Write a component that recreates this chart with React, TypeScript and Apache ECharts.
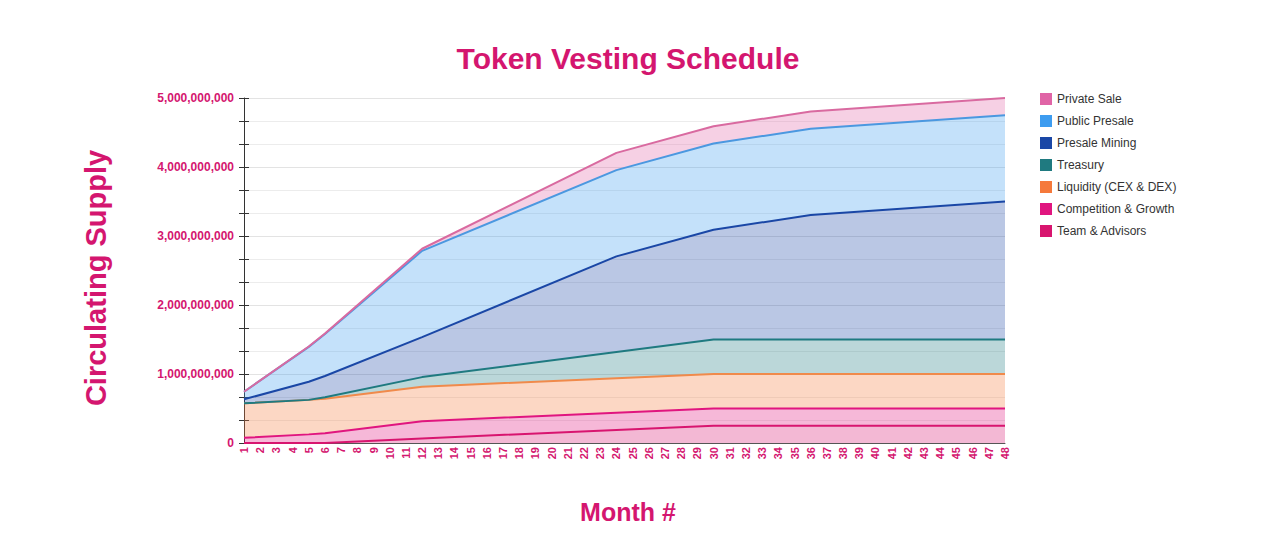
import React, { useEffect, useRef } from "react";
import * as echarts from "echarts";

// Month breakpoints of the vesting schedule (values in millions of tokens)
const months = [1, 5, 6, 12, 24, 30, 36, 48];
const UNIT = 1e6;

const teamAdvisors = [0, 0, 0, 65, 190, 250, 250, 250];
const competitionGrowth = [75, 125, 143, 250, 250, 250, 250, 250];
const liquidity = [500, 500, 500, 500, 500, 500, 500, 500];
const treasury = [0, 0, 20, 140, 380, 500, 500, 500];
const presaleMining = [58, 263, 308, 580, 1385, 1590, 1805, 2000];
const publicPresale = [110, 505, 610, 1250, 1250, 1250, 1250, 1250];
const privateSale = [0, 5, 7, 30, 250, 250, 250, 250];

const seriesNames = [
  "Team & Advisors",
  "Competition & Growth",
  "Liquidity (CEX & DEX)",
  "Treasury",
  "Presale Mining",
  "Public Presale",
  "Private Sale",
];
const seriesValues = [
  teamAdvisors,
  competitionGrowth,
  liquidity,
  treasury,
  presaleMining,
  publicPresale,
  privateSale,
];
const seriesColors = [
  "#d8156f",
  "#e0157f",
  "#f5793b",
  "#1f7a80",
  "#1a47a6",
  "#3d9cf0",
  "#e064a6",
];
const lineColors = [
  "#d8156f",
  "#e0157f",
  "#f08a4b",
  "#1f7a80",
  "#1a47a6",
  "#4b98e0",
  "#d96aa0",
];

const PINK = "#d4166f";
const FONT = "Arial, 'Liberation Sans', Helvetica, sans-serif";

export default function App() {
  const ref = useRef<HTMLDivElement>(null);

  useEffect(() => {
    if (!ref.current) return;
    const chart = echarts.init(ref.current, undefined, { renderer: "svg" });

    // value first, month second, so that the value dimension is the one stacked
    const series = seriesNames.map((name, i) => ({
      name,
      type: "line",
      stack: "total",
      showSymbol: false,
      symbol: "none",
      encode: { x: 1, y: 0 },
      data: months.map((m, j) => [seriesValues[i][j] * UNIT, m]),
      itemStyle: { color: seriesColors[i] },
      lineStyle: { color: lineColors[i], width: 2 },
      areaStyle: { color: seriesColors[i], opacity: 0.3 },
    }));

    const yCommon = {
      type: "value",
      min: 0,
      max: 5e9,
      interval: 1e9,
    };

    chart.setOption({
      animation: false,
      backgroundColor: "#ffffff",
      textStyle: { fontFamily: FONT },
      grid: { left: 244, right: 275, top: 98, bottom: 94, containLabel: false },
      legend: {
        orient: "vertical",
        left: 1035,
        top: 88,
        icon: "rect",
        itemWidth: 12,
        itemHeight: 12,
        itemGap: 10,
        data: [...seriesNames].reverse(),
        textStyle: { color: "#333", fontSize: 12, fontFamily: FONT },
      },
      xAxis: {
        type: "value",
        min: 1,
        max: 48,
        interval: 1,
        axisLine: { show: true, lineStyle: { color: "#555", width: 1 } },
        axisTick: { show: false },
        splitLine: { show: false },
        axisLabel: {
          rotate: 90,
          margin: 4,
          color: PINK,
          fontWeight: "bold",
          fontSize: 11,
          fontFamily: FONT,
        },
      },
      yAxis: [
        {
          ...yCommon,
          axisLine: { show: true, lineStyle: { color: "#333", width: 1 } },
          axisTick: { show: true, length: 5, lineStyle: { color: "#333" } },
          minorTick: { show: true, splitNumber: 3, length: 5, lineStyle: { color: "#333" } },
          splitLine: { show: true, lineStyle: { color: "#e3e3e3" } },
          minorSplitLine: { show: true, lineStyle: { color: "#ececec" } },
          axisLabel: {
            margin: 10,
            color: PINK,
            fontWeight: "bold",
            fontSize: 12,
            fontFamily: FONT,
            formatter: (v: number) => Math.round(v).toLocaleString("en-US"),
          },
        },
        {
          ...yCommon,
          position: "left",
          axisLine: { show: false },
          axisTick: { show: true, inside: true, length: 5, lineStyle: { color: "#333" } },
          minorTick: { show: true, splitNumber: 3, length: 5, lineStyle: { color: "#333" } },
          splitLine: { show: false },
          axisLabel: { show: false },
        },
      ],
      series,
      graphic: [
        {
          type: "text",
          x: 628,
          y: 58,
          style: {
            text: "Token Vesting Schedule",
            fill: PINK,
            font: `bold 30px ${FONT}`,
            align: "center",
            verticalAlign: "middle",
            textAlign: "center",
            textVerticalAlign: "middle",
          },
        },
        {
          type: "text",
          x: 96,
          y: 278,
          rotation: Math.PI / 2,
          style: {
            text: "Circulating Supply",
            fill: PINK,
            font: `bold 29px ${FONT}`,
            align: "center",
            verticalAlign: "middle",
            textAlign: "center",
            textVerticalAlign: "middle",
          },
        },
        {
          type: "text",
          x: 628,
          y: 512,
          style: {
            text: "Month #",
            fill: PINK,
            font: `bold 25px ${FONT}`,
            align: "center",
            verticalAlign: "middle",
            textAlign: "center",
            textVerticalAlign: "middle",
          },
        },
      ],
    });

    return () => chart.dispose();
  }, []);

  return (
    <div
      ref={ref}
      style={{ position: "fixed", left: 0, top: 0, width: 1280, height: 537 }}
    />
  );
}
